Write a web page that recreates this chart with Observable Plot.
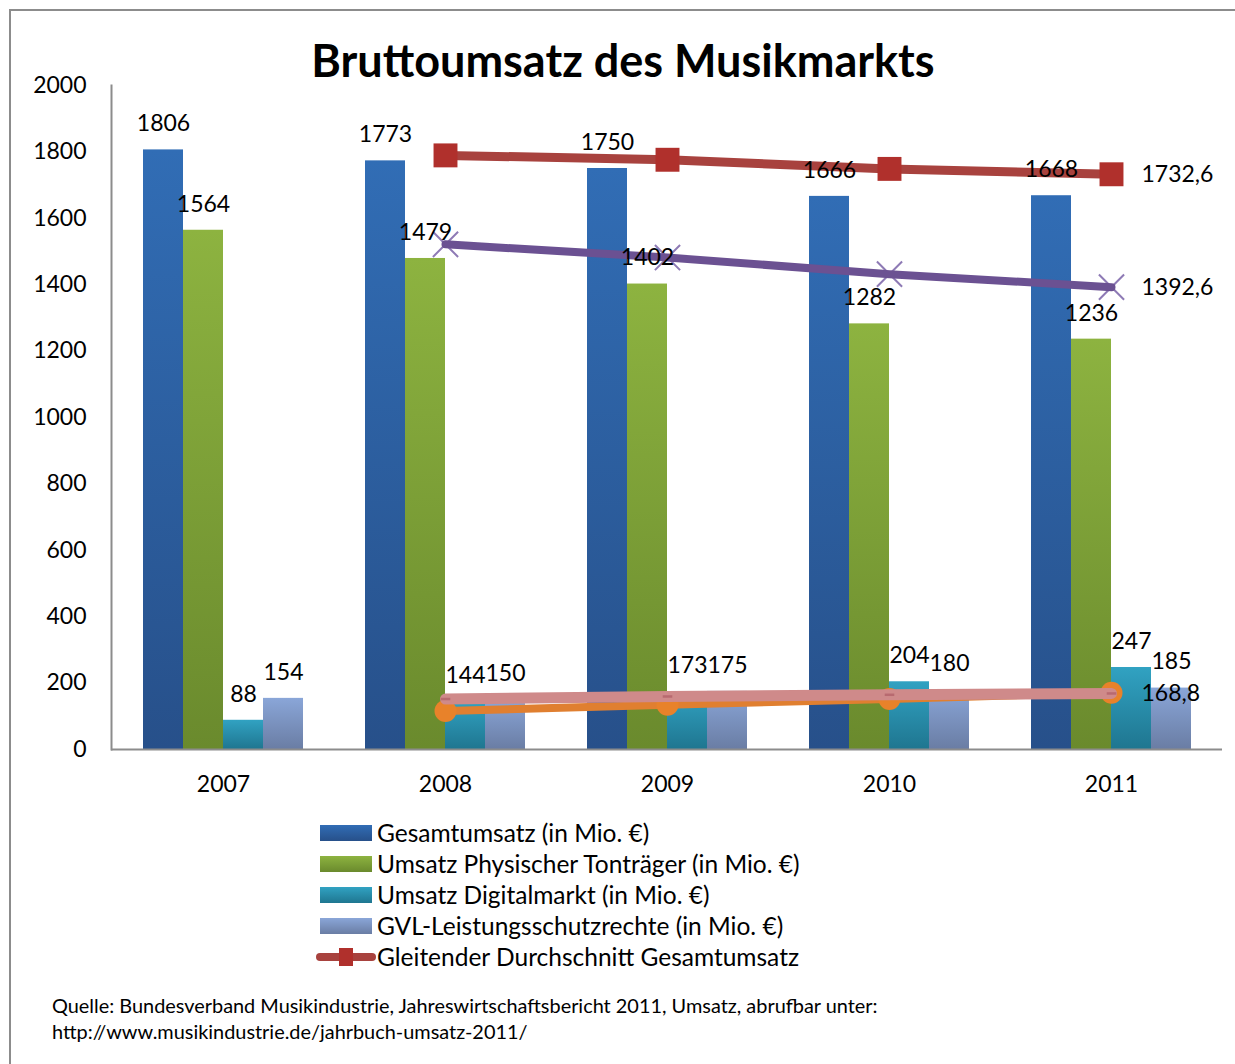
<!DOCTYPE html>
<html><head><meta charset="utf-8">
<script src="https://cdn.jsdelivr.net/npm/d3@7"></script>
<script src="https://cdn.jsdelivr.net/npm/@observablehq/plot@0.6"></script>
<style>
body{margin:0;background:#fff;font-family:Lato,sans-serif;color:#000}
#wrap{position:relative;width:1235px;height:1064px;overflow:hidden;background:#fff}
#frame{position:absolute;left:9px;top:9px;width:1400px;height:1200px;border-left:2px solid #8c8c8c;border-top:2px solid #8c8c8c}
.layer{position:absolute;left:0;top:0}
#title{position:absolute;left:0;width:1246px;top:34px;text-align:center;font-weight:bold;font-size:45px;line-height:52px}
#legend{position:absolute;left:316px;top:817px;font-size:24.5px}
.row{display:flex;align-items:center;height:31px}
.sw{width:52px;height:16px;margin-left:4px;margin-right:5px}
.lsw{position:relative;width:60px;height:20px;margin-right:1px}
#caption{position:absolute;left:52px;top:992px;font-size:19.9px;line-height:26px}
</style></head>
<body><div id="wrap"><div id="frame"></div><div id="title">Bruttoumsatz des Musikmarkts</div><div id="legend"></div><div id="caption"></div></div>
<script>
const years = ["2007","2008","2009","2010","2011"];
const series = ["Gesamtumsatz (in Mio. €)","Umsatz Physischer Tonträger (in Mio. €)","Umsatz Digitalmarkt (in Mio. €)","GVL-Leistungsschutzrechte (in Mio. €)"];
const gesamt = [1806,1773,1750,1666,1668];
const physisch = [1564,1479,1402,1282,1236];
const digital = [88,144,173,204,247];
const gvl = [154,150,175,180,185];

const lineYears = ["2008","2009","2010","2011"];
const lineNames = ["Gleitender Durchschnitt Gesamtumsatz","Gleitender Durchschnitt Physische Tonträger","Gleitender Durchschnitt Digitalmarkt","Gleitender Durchschnitt GVL"];
const avgGesamt = [1789.5,1776.3,1748.8,1732.6];
const avgPhysisch = [1521.5,1481.7,1431.8,1392.6];
const avgDigital = [116,135,152.3,171.2];
const avgGvl = [152,159.7,164.8,168.8];
const labelledLines = [lineNames[0], lineNames[1], lineNames[3]];
const yTicks = [0,200,400,600,800,1000,1200,1400,1600,1800,2000];
const legendNames = [...series, lineNames[0]];
const captionLines = ["Quelle: Bundesverband Musikindustrie, Jahreswirtschaftsbericht 2011, Umsatz, abrufbar unter:","http://www.musikindustrie.de/jahrbuch-umsatz-2011/"];

// styles
const gradTop = ["#316db5","#8db340","#31a2c2","#8aa6d8"];
const gradBot = ["#27508a","#6a8a2d","#1f7690","#6a7da4"];
const gradIds = ["gB","gG","gD","gV"];
const lineColors = ["#a8423e","#6b5192","#e07f30","#cf8a8a"];

const barValues = [gesamt, physisch, digital, gvl];
const barData = years.flatMap((y,i)=>series.map((s,j)=>({year:y, series:s, value:barValues[j][i]})));
const lineValues = [avgGesamt, avgPhysisch, avgDigital, avgGvl];
const lineData = lineNames.map((n,j)=>lineYears.map((y,i)=>({year:y, name:n, value:lineValues[j][i]})));
const fmt = v => String(v).replace(".", ",");

const common = {width:1235,height:800,marginLeft:111,marginRight:13,marginTop:85,marginBottom:51,
  style:{fontFamily:"Lato, sans-serif",fontSize:"23px",background:"transparent",color:"#000",overflow:"visible"}};
const facetOpts = {fx:{domain:years,padding:0,axis:null},
  x:{type:"band",domain:series,paddingInner:0,paddingOuter:0.73,axis:null},
  y:{domain:[0,2000],axis:null}};

// layer 1: bars
const bars = Plot.plot({...common, ...facetOpts,
  color:{type:"ordinal",domain:series,range:gradIds.map(id=>`url(#${id})`)},
  marks:[Plot.barY(barData,{fx:"year",x:"series",y:"value",fill:"series"})]});
const defs = d3.select(bars).insert("defs",":first-child");
gradIds.forEach((id,j)=>{
  const g = defs.append("linearGradient").attr("id",id).attr("x1",0).attr("y1",0).attr("x2",0).attr("y2",1);
  g.append("stop").attr("offset","0%").attr("stop-color",gradTop[j]);
  g.append("stop").attr("offset","100%").attr("stop-color",gradBot[j]);
});

// custom dash symbol
const dashSym = {draw(ctx,size){const w=Math.sqrt(size)*0.9,h=2.5;ctx.moveTo(-w/2,-h/2);ctx.lineTo(w/2,-h/2);ctx.lineTo(w/2,h/2);ctx.lineTo(-w/2,h/2);ctx.closePath();}};

// layer 2: axes + lines
const lastPts = lineData.map(d=>d[d.length-1]).filter(d=>labelledLines.includes(d.name));
const lines = Plot.plot({...common,
  x:{type:"point",domain:years,padding:0.5,label:null,tickSize:0,tickPadding:26},
  y:{domain:[0,2000],ticks:yTicks,tickFormat:d=>String(d),tickSize:0,tickPadding:25,label:null},
  marks:[
    Plot.ruleY([0],{stroke:"#8c8c8c",strokeWidth:2}),
    Plot.frame({anchor:"left",stroke:"#8c8c8c",strokeWidth:2}),
    Plot.line(lineData[0],{x:"year",y:"value",stroke:lineColors[0],strokeWidth:9}),
    Plot.dot(lineData[0],{x:"year",y:"value",symbol:"square",r:13.5,fill:"#b0302c"}),
    Plot.dot(lineData[1],{x:"year",y:"value",symbol:"times",r:11.5,stroke:"#8e7ab5",strokeWidth:2}),
    Plot.line(lineData[1],{x:"year",y:"value",stroke:lineColors[1],strokeWidth:8}),
    Plot.line(lineData[2],{x:"year",y:"value",stroke:lineColors[2],strokeWidth:8}),
    Plot.dot(lineData[2],{x:"year",y:"value",r:11,fill:"#e8822a"}),
    Plot.line(lineData[3],{x:"year",y:"value",stroke:lineColors[3],strokeWidth:11}),
    Plot.dot(lineData[3],{x:"year",y:"value",symbol:dashSym,r:6,fill:"#b86a70"}),
    Plot.text(lastPts,{x:"year",y:"value",text:d=>fmt(d.value),dx:30,textAnchor:"start",fill:"#000"})
  ]});

// layer 3: bar labels
const labels = Plot.plot({...common, ...facetOpts,
  marks:[Plot.text(barData,{fx:"year",x:"series",y:"value",text:d=>String(d.value),dy:-26,fill:"#000"})]});

const wrap = document.getElementById("wrap");
[bars, lines, labels].forEach(s=>{s.classList.add("layer"); wrap.appendChild(s);});

// legend
const lg = document.getElementById("legend");
legendNames.forEach((n,i)=>{
  const row = document.createElement("div"); row.className="row";
  let sw;
  if(i<4){ sw=document.createElement("div"); sw.className="sw"; sw.style.background=`linear-gradient(${gradTop[i]},${gradBot[i]})`; }
  else {
    sw=document.createElement("div"); sw.className="lsw";
    sw.innerHTML=`<div style="position:absolute;left:0;top:6px;width:60px;height:8px;border-radius:4px;background:${lineColors[0]}"></div><div style="position:absolute;left:23px;top:1px;width:14px;height:18px;background:#b0302c"></div>`;
  }
  const t=document.createElement("span"); t.textContent=n;
  row.appendChild(sw); row.appendChild(t); lg.appendChild(row);
});
document.getElementById("caption").innerHTML = captionLines.join("<br>");
</script></body></html>
